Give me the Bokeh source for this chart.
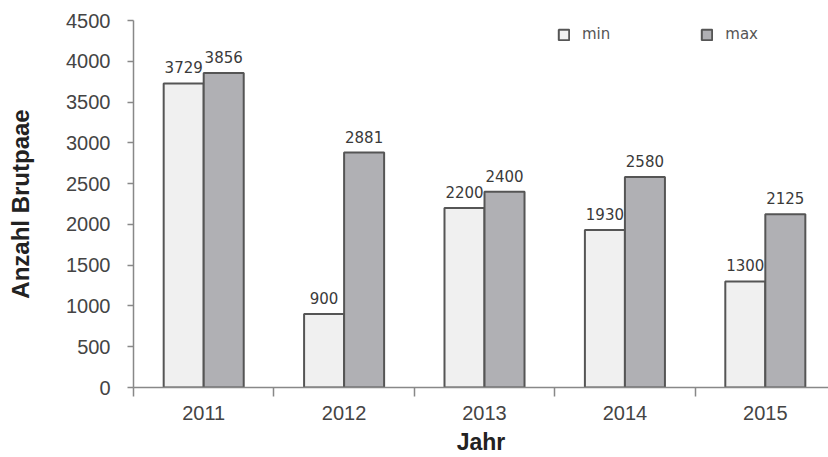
from bokeh.plotting import figure
from bokeh.models import ColumnDataSource, FixedTicker, Range1d, Legend, LegendItem, LabelSet
from bokeh.core.properties import value
from bokeh.embed import file_html
from bokeh.resources import INLINE

years = ["2011", "2012", "2013", "2014", "2015"]
min_vals = [3729, 900, 2200, 1930, 1300]
max_vals = [3856, 2881, 2400, 2580, 2125]
y_ticks = [0, 500, 1000, 1500, 2000, 2500, 3000, 3500, 4000, 4500]

bw = 0.285
xs = list(range(len(years)))
src = ColumnDataSource(dict(
    x=xs,
    xmin=[x - bw / 2 for x in xs],
    xmax=[x + bw / 2 for x in xs],
    vmin=min_vals, vmax=max_vals,
    lmin=[str(v) for v in min_vals], lmax=[str(v) for v in max_vals],
))

p = figure(width=828, height=457, output_backend="svg", toolbar_location=None,
           x_range=Range1d(-0.5, 4.45), y_range=Range1d(0, 4500),
           min_border_left=133, min_border_right=0, min_border_top=20, min_border_bottom=70)
p.outline_line_color = None
p.grid.visible = False
p.background_fill_color = "white"
p.border_fill_color = "white"

r1 = p.vbar(x="xmin", top="vmin", width=bw, source=src, fill_color="#f0f0f0",
            line_color="#555555", line_width=2)
r2 = p.vbar(x="xmax", top="vmax", width=bw, source=src, fill_color="#b0b0b4",
            line_color="#555555", line_width=2)

for col, yv, lab in (("xmin", "vmin", "lmin"), ("xmax", "vmax", "lmax")):
    ls = LabelSet(x=col, y=yv, text=lab, source=src,
                  text_align="center", text_baseline="bottom", y_offset=10,
                  text_font=value("DejaVu Sans"), text_font_size=value("15px"),
                  text_color="#3a3a3a")
    p.add_layout(ls)

# x axis
xa = p.xaxis[0]
xa.ticker = FixedTicker(ticks=xs, minor_ticks=[x - 0.5 for x in xs] + [4.5])
xa.major_label_overrides = {i: y for i, y in enumerate(years)}
xa.major_tick_out = 0
xa.major_tick_in = 0
xa.minor_tick_out = 9
xa.minor_tick_in = 0
xa.minor_tick_line_color = "#888888"
xa.minor_tick_line_width = 1.5
xa.axis_line_color = "#888888"
xa.axis_line_width = 1.5
xa.major_label_text_font = "Liberation Sans"
xa.major_label_text_font_size = "20px"
xa.major_label_text_color = "#444444"
xa.major_label_standoff = 9
xa.axis_label = "Jahr"
xa.axis_label_text_font = "Liberation Sans"
xa.axis_label_text_font_style = "bold"
xa.axis_label_text_font_size = "23px"
xa.axis_label_text_color = "#222222"
xa.axis_label_standoff = 6

ya = p.yaxis[0]
ya.ticker = FixedTicker(ticks=y_ticks, minor_ticks=[])
ya.major_tick_out = 6
ya.major_tick_in = 0
ya.major_tick_line_color = "#888888"
ya.major_tick_line_width = 1.5
ya.axis_line_color = "#888888"
ya.axis_line_width = 1.5
ya.major_label_text_font = "Liberation Sans"
ya.major_label_text_font_size = "20px"
ya.major_label_text_color = "#444444"
ya.major_label_standoff = 17
ya.axis_label = "Anzahl Brutpaae"
ya.axis_label_text_font = "Liberation Sans"
ya.axis_label_text_font_style = "bold"
ya.axis_label_text_font_size = "24px"
ya.axis_label_text_color = "#222222"
ya.axis_label_standoff = 29

legend = Legend(items=[LegendItem(label="min", renderers=[r1]),
                       LegendItem(label="max", renderers=[r2])],
                orientation="horizontal", location=(424, 344),
                border_line_color=None, background_fill_alpha=0,
                glyph_width=13, glyph_height=13, label_standoff=12, spacing=90,
                label_text_font="DejaVu Sans", label_text_font_size="15px",
                label_text_color="#555555", padding=0, margin=0)
p.add_layout(legend)

open("out.html", "w").write(file_html(p, INLINE))
